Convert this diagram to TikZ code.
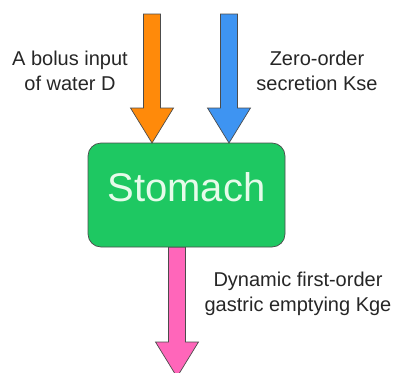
\documentclass[tikz,border=0pt]{standalone}
\usepackage{fontspec}
\setmainfont{Liberation Sans}
\usetikzlibrary{calc}
\definecolor{bolus}{HTML}{FF8A0A}
\definecolor{secret}{HTML}{3E94F2}
\definecolor{organ}{HTML}{1EC862}
\definecolor{empty}{HTML}{FF66BA}
\definecolor{organtext}{HTML}{E6FBEA}
% fat arrow from #1 (shaft top) to #2 (tip), filled with #3
\newcommand{\fatarrow}[3]{%
\draw [flow, fill=#3] let \p1=(#1), \p2=(#2) in
  (\x1-8.5pt,\y1) -- (\x2-8.5pt,\y2+35pt) -- (\x2-21.5pt,\y2+35pt) -- (\x2,\y2)
  -- (\x2+21.5pt,\y2+35pt) -- (\x2+8.5pt,\y2+35pt) -- (\x1+8.5pt,\y1) -- cycle;}
\begin{document}
\begin{tikzpicture}[x=1pt,y=1pt,
  flow/.style={draw=black!70, line width=0.7pt, line join=miter},
  label/.style={align=center, font=\fontsize{20}{25}\selectfont, text=black!85},
  organbox/.style={draw=black!70, line width=0.7pt, fill=organ, rounded corners=13pt,
    minimum width=197pt, minimum height=104pt, inner sep=0pt,
    text height=29pt, text depth=16pt,
    text=organtext, font=\fontsize{40}{48}\selectfont}]
\useasboundingbox (0,0) rectangle (396,-372);
% compartment
\node [organbox] (stomach) at (186.5,-195) {Stomach};
% inputs and output
\coordinate (bolus top) at (152,-14);
\coordinate (bolus end) at (152,-143);
\coordinate (secret top) at (229,-14);
\coordinate (secret end) at (229,-143);
\coordinate (empty end) at (177,-377);
\fatarrow{bolus top}{bolus end}{bolus}
\fatarrow{secret top}{secret end}{secret}
\fatarrow{stomach.south -| empty end}{empty end}{empty}
% labels
\node [label] (bolus label) at (70,-70.5) {A bolus input\\of water D};
\node [label] (secret label) at (317,-70.5) {Zero-order\\secretion Kse};
\node [label] (empty label) at (298,-294) {Dynamic first-order\\gastric emptying Kge};
\end{tikzpicture}
\end{document}
